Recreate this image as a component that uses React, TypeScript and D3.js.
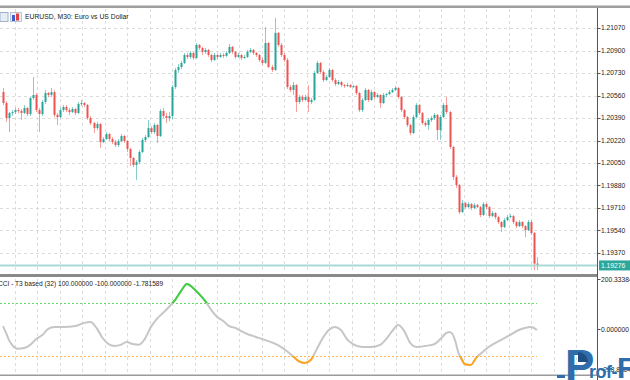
import React from "react";
import * as d3 from "d3";

const W = 630;
const H = 380;

// ---- price data (EURUSD M30) ----
const firstOpen = 1.20586;
const closes = [
  1.20503, 1.20390, 1.20428, 1.20435, 1.20450, 1.20443, 1.20428, 1.20466, 1.20420, 1.20541,
  1.20564, 1.20450, 1.20420, 1.20511, 1.20579, 1.20564, 1.20586, 1.20413, 1.20397, 1.20450,
  1.20473, 1.20450, 1.20435, 1.20458, 1.20428, 1.20496, 1.20503, 1.20488, 1.20390, 1.20352,
  1.20314, 1.20345, 1.20208, 1.20231, 1.20269, 1.20231, 1.20208, 1.20186, 1.20216, 1.20254,
  1.20216, 1.20156, 1.20088, 1.20035, 1.20057, 1.20133, 1.20224, 1.20246, 1.20314, 1.20284,
  1.20337, 1.20254, 1.20443, 1.20405, 1.20390, 1.20405, 1.20624, 1.20753, 1.20775, 1.20806,
  1.20866, 1.20851, 1.20881, 1.20844, 1.20942, 1.20919, 1.20889, 1.20904, 1.20866, 1.20828,
  1.20866, 1.20851, 1.20866, 1.20859, 1.20881, 1.20927, 1.20889, 1.20851, 1.20866, 1.20844,
  1.20851, 1.20889, 1.20904, 1.20881, 1.20866, 1.20828, 1.20806, 1.20957, 1.20775, 1.20753,
  1.21033, 1.20942, 1.20866, 1.20828, 1.20624, 1.20602, 1.20639, 1.20511, 1.20549, 1.20526,
  1.20549, 1.20511, 1.20526, 1.20730, 1.20806, 1.20738, 1.20677, 1.20700, 1.20753, 1.20677,
  1.20647, 1.20662, 1.20639, 1.20632, 1.20639, 1.20624, 1.20632, 1.20579, 1.20450, 1.20526,
  1.20602, 1.20526, 1.20586, 1.20549, 1.20564, 1.20503, 1.20564, 1.20571, 1.20586, 1.20602,
  1.20617, 1.20549, 1.20450, 1.20397, 1.20337, 1.20277, 1.20397, 1.20488, 1.20428, 1.20352,
  1.20337, 1.20375, 1.20390, 1.20413, 1.20299, 1.20397, 1.20488, 1.20435, 1.20171, 1.19944,
  1.19883, 1.19679, 1.19747, 1.19717, 1.19740, 1.19710, 1.19732, 1.19717, 1.19657, 1.19740,
  1.19717, 1.19649, 1.19672, 1.19641, 1.19604, 1.19566, 1.19619, 1.19641, 1.19649, 1.19604,
  1.19573, 1.19604, 1.19573, 1.19543, 1.19604, 1.19521, 1.19290, 1.19276,
];
const highs = [
  1.20617, 1.20518, 1.20435, 1.20450, 1.20466, 1.20466, 1.20458, 1.20488, 1.20473, 1.20549,
  1.20700, 1.20579, 1.20466, 1.20526, 1.20602, 1.20586, 1.20617, 1.20602, 1.20428, 1.20466,
  1.20488, 1.20488, 1.20466, 1.20473, 1.20466, 1.20511, 1.20526, 1.20511, 1.20496, 1.20405,
  1.20360, 1.20360, 1.20352, 1.20246, 1.20284, 1.20277, 1.20246, 1.20224, 1.20231, 1.20269,
  1.20261, 1.20224, 1.20163, 1.20095, 1.20072, 1.20148, 1.20239, 1.20261, 1.20375, 1.20329,
  1.20352, 1.20345, 1.20458, 1.20466, 1.20428, 1.20435, 1.20639, 1.20768, 1.20798, 1.20821,
  1.20881, 1.20881, 1.20896, 1.20889, 1.20957, 1.20949, 1.20927, 1.20919, 1.20912, 1.20874,
  1.20881, 1.20874, 1.20881, 1.20881, 1.20896, 1.20949, 1.20934, 1.20896, 1.20881, 1.20874,
  1.20866, 1.20904, 1.20919, 1.20912, 1.20889, 1.20874, 1.20844, 1.21078, 1.20964, 1.20791,
  1.21146, 1.21040, 1.20957, 1.20881, 1.20844, 1.20639, 1.20662, 1.20647, 1.20564, 1.20564,
  1.20564, 1.20639, 1.20541, 1.20745, 1.20821, 1.20813, 1.20753, 1.20715, 1.20768, 1.20760,
  1.20692, 1.20677, 1.20670, 1.20647, 1.20655, 1.20647, 1.20639, 1.20639, 1.20586, 1.20541,
  1.20617, 1.20609, 1.20602, 1.20594, 1.20579, 1.20571, 1.20579, 1.20579, 1.20602, 1.20617,
  1.20632, 1.20624, 1.20556, 1.20458, 1.20405, 1.20345, 1.20413, 1.20503, 1.20496, 1.20435,
  1.20367, 1.20390, 1.20405, 1.20428, 1.20420, 1.20413, 1.20503, 1.20549, 1.20443, 1.20178,
  1.19959, 1.19891, 1.19770, 1.19755, 1.19755, 1.19747, 1.19747, 1.19740, 1.19725, 1.19755,
  1.19747, 1.19725, 1.19687, 1.19679, 1.19649, 1.19611, 1.19634, 1.19657, 1.19664, 1.19657,
  1.19611, 1.19619, 1.19611, 1.19581, 1.19619, 1.19619, 1.19528, 1.19339,
];
const lows = [
  1.20488, 1.20360, 1.20284, 1.20405, 1.20420, 1.20428, 1.20375, 1.20420, 1.20405, 1.20405,
  1.20526, 1.20435, 1.20284, 1.20405, 1.20496, 1.20549, 1.20549, 1.20397, 1.20337, 1.20390,
  1.20435, 1.20435, 1.20413, 1.20428, 1.20413, 1.20420, 1.20481, 1.20473, 1.20375, 1.20337,
  1.20277, 1.20299, 1.20163, 1.20201, 1.20224, 1.20216, 1.20193, 1.20171, 1.20171, 1.20208,
  1.20201, 1.20133, 1.20027, 1.20019, 1.19921, 1.20042, 1.20125, 1.20208, 1.20239, 1.20269,
  1.20269, 1.20201, 1.20246, 1.20390, 1.20352, 1.20367, 1.20382, 1.20609, 1.20730, 1.20760,
  1.20798, 1.20836, 1.20836, 1.20828, 1.20836, 1.20904, 1.20866, 1.20874, 1.20851, 1.20813,
  1.20821, 1.20836, 1.20844, 1.20844, 1.20851, 1.20874, 1.20874, 1.20836, 1.20844, 1.20828,
  1.20836, 1.20844, 1.20881, 1.20866, 1.20851, 1.20813, 1.20791, 1.20798, 1.20768, 1.20738,
  1.20745, 1.20927, 1.20851, 1.20813, 1.20609, 1.20586, 1.20564, 1.20435, 1.20496, 1.20511,
  1.20518, 1.20435, 1.20496, 1.20518, 1.20723, 1.20723, 1.20662, 1.20670, 1.20692, 1.20662,
  1.20632, 1.20639, 1.20624, 1.20617, 1.20624, 1.20617, 1.20617, 1.20564, 1.20435, 1.20435,
  1.20518, 1.20511, 1.20518, 1.20534, 1.20541, 1.20466, 1.20496, 1.20549, 1.20564, 1.20579,
  1.20594, 1.20534, 1.20435, 1.20382, 1.20322, 1.20261, 1.20269, 1.20390, 1.20413, 1.20337,
  1.20322, 1.20299, 1.20360, 1.20375, 1.20224, 1.20224, 1.20390, 1.20420, 1.20156, 1.19921,
  1.19861, 1.19664, 1.19672, 1.19702, 1.19710, 1.19694, 1.19702, 1.19710, 1.19641, 1.19649,
  1.19702, 1.19634, 1.19641, 1.19626, 1.19589, 1.19528, 1.19558, 1.19611, 1.19634, 1.19589,
  1.19558, 1.19566, 1.19558, 1.19490, 1.19536, 1.19505, 1.19241, 1.19241,
];

const priceTicks = [1.2107, 1.209, 1.2073, 1.2056, 1.2039, 1.2022, 1.2005, 1.1988, 1.1971, 1.1954, 1.1937];
const lastPrice = 1.19276;

// ---- CCI (T3 based, 32) ----
const cciBars = [
  0, 1, 2, 3, 5, 7, 9, 11, 13, 15, 17, 20, 24, 27, 29, 31, 33, 35, 37, 39, 41, 43, 45, 47, 49,
  51, 53, 55, 57, 59, 61, 63, 65, 67, 69, 71, 73, 75, 77, 79, 81, 83, 87, 91, 94, 96, 98, 100,
  102, 104, 106, 108, 110, 112, 114, 116, 119, 122, 125, 127, 129, 131, 133, 135, 137, 140, 143,
  145, 147, 148, 149, 150, 151, 152, 153, 155, 157, 159, 161, 165, 168, 171, 173, 175, 177,
];
const cciValues = [
  13, -13, -40, -58, -73, -70, -58, -36, -21, 2, 9, 9, 13, 25, 28, 6, -32, -55, -62, -58, -47, -55, -58, -36, 9,
  40, 62, 85, 111, 145, 172, 157, 134, 108, 74, 47, 32, 13, 6, -6, -17, -25, -40, -58, -81, -100, -119, -126,
  -115, -74, -32, -2, 9, -2, -36, -55, -66, -66, -58, -36, -6, 17, -6, -51, -66, -62, -55,
  -36, -13, -9, -17, -47, -89, -111, -130, -134, -104, -85, -66, -40, -21, -2, 6, 9, -1.781589,
];
const cciLevels = [100, -100];
const cciTopLabel = "200.33384";
const cciZeroLabel = "0.000000";
const cciBottomLabel = "-228.8804";

const FONT = "'Liberation Sans', Arial, sans-serif";

export default function App() {
  const n = closes.length;
  const x = d3.scaleLinear().domain([0, n - 1]).range([3, 537]);
  const y = d3.scaleLinear().domain([1.1937, 1.2107]).range([253, 28]);
  const yc = d3.scaleLinear().domain([-100, 100]).range([356, 303]);
  const opens = closes.map((c, i) => (i === 0 ? firstOpen : closes[i - 1]));

  const axisX = 597.5;
  const gridXs = d3.range(26).map((k) => 15 + k * 22.44);

  const line = d3
    .line<number>()
    .x((_, i) => x(cciBars[i]))
    .y((d) => yc(d))
    .curve(d3.curveMonotoneX);
  const cciPath = line(cciValues) || "";

  const up = "#26a69a";
  const down = "#ef5350";

  return (
    <svg
      width={W}
      height={H}
      viewBox={`0 0 ${W} ${H}`}
      style={{ position: "absolute", left: 0, top: 0, background: "#fff" }}
    >
      <defs>
        <clipPath id="aboveClip">
          <rect x={0} y={270} width={axisX} height={yc(100) - 270} />
        </clipPath>
        <clipPath id="belowClip">
          <rect x={0} y={yc(-100)} width={axisX} height={380 - yc(-100)} />
        </clipPath>
      </defs>
      <rect x={0} y={0} width={W} height={H} fill="#fff" />
      {/* top frame */}
      <rect x={0} y={5.5} width={W} height={2.5} fill="#9e9e9e" />

      {/* grid main */}
      {gridXs.map((gx, i) => (
        <line key={"gv" + i} x1={Math.round(gx) + 0.5} x2={Math.round(gx) + 0.5} y1={9} y2={273}
          stroke="#dcdcdc" strokeDasharray="3,3" strokeWidth={1} />
      ))}
      {priceTicks.map((p, i) => (
        <line key={"gh" + i} x1={0} x2={axisX} y1={Math.round(y(p)) + 0.5} y2={Math.round(y(p)) + 0.5}
          stroke="#dcdcdc" strokeDasharray="3,3" strokeWidth={1} />
      ))}
      {/* grid indicator */}
      {gridXs.map((gx, i) => (
        <line key={"gvc" + i} x1={Math.round(gx) + 0.5} x2={Math.round(gx) + 0.5} y1={279} y2={374}
          stroke="#dcdcdc" strokeDasharray="3,3" strokeWidth={1} />
      ))}

      {/* candles */}
      {closes.map((c, i) => {
        const o = opens[i];
        const cx = Math.round(x(i));
        const col = c >= o ? up : down;
        const top = y(Math.max(o, c));
        const bot = y(Math.min(o, c));
        return (
          <g key={"c" + i}>
            <line x1={cx + 0.5} x2={cx + 0.5} y1={y(highs[i])} y2={y(lows[i])} stroke={col} strokeOpacity={0.55} strokeWidth={1} />
            <rect x={cx - 0.5} y={top} width={2} height={Math.max(1, bot - top)} fill={col} />
          </g>
        );
      })}

      {/* last price line */}
      <line x1={0} x2={axisX} y1={y(lastPrice)} y2={y(lastPrice)} stroke="#a9dad5" strokeWidth={2} />

      {/* panel separator & bottom */}
      <rect x={0} y={274} width={axisX} height={3} fill="#8a8a8a" />
      <rect x={0} y={374.5} width={axisX} height={1.5} fill="#9a9a9a" />

      {/* right axis */}
      <line x1={axisX} x2={axisX} y1={8} y2={H} stroke="#555" strokeWidth={1} />
      {priceTicks.map((p, i) => (
        <g key={"t" + i}>
          <line x1={axisX} x2={axisX + 3} y1={Math.round(y(p)) + 0.5} y2={Math.round(y(p)) + 0.5} stroke="#555" />
          <text x={601} y={y(p)} dy="0.35em" fontSize={6.7} fontFamily={FONT} fill="#222">
            {p.toFixed(5)}
          </text>
        </g>
      ))}
      <rect x={599} y={y(lastPrice) - 5} width={31} height={10} fill="#2ca79b" />
      <text x={601} y={y(lastPrice)} dy="0.35em" fontSize={6.7} fontFamily={FONT} fill="#fff">
        {lastPrice.toFixed(5)}
      </text>

      {/* indicator axis labels */}
      <line x1={axisX} x2={axisX + 3} y1={279.5} y2={279.5} stroke="#555" />
      <text x={601} y={279.5} dy="0.35em" fontSize={6.7} fontFamily={FONT} fill="#222">{cciTopLabel}</text>
      <line x1={axisX} x2={axisX + 3} y1={yc(0)} y2={yc(0)} stroke="#555" />
      <text x={601} y={yc(0)} dy="0.35em" fontSize={6.7} fontFamily={FONT} fill="#222">{cciZeroLabel}</text>
      <text x={601} y={370} dy="0.35em" fontSize={6.7} fontFamily={FONT} fill="#222">{cciBottomLabel}</text>

      {/* CCI levels */}
      {cciLevels.map((lv, i) => (
        <line key={"lv" + i} x1={0} x2={x(n - 1)} y1={Math.round(yc(lv)) + 0.5} y2={Math.round(yc(lv)) + 0.5}
          stroke={lv > 0 ? "#63d863" : "#ffb84d"} strokeDasharray="2,2" strokeWidth={1} />
      ))}
      {/* CCI line */}
      <path d={cciPath} fill="none" stroke="#c6c6c6" strokeWidth={2} />
      <path d={cciPath} fill="none" stroke="#3fcf3f" strokeWidth={2} clipPath="url(#aboveClip)" />
      <path d={cciPath} fill="none" stroke="#ffa51f" strokeWidth={2} clipPath="url(#belowClip)" />

      {/* titles */}
      <rect x={0} y={12.5} width={8} height={9} fill="#e6eef5" stroke="#9fb4c8" strokeWidth={1} />
      <rect x={10.5} y={12.5} width={11} height={9} fill="#eef2f8" stroke="#a8b8d0" strokeWidth={0.8} />
      <rect x={12} y={15} width={3} height={6} fill="#3f5fd0" />
      <rect x={16} y={13.5} width={3} height={7} fill="#e04040" />
      <text x={25} y={17} dy="0.35em" fontSize={6.8} fontFamily={FONT} fill="#222">
        {"EURUSD, M30:  Euro vs US Dollar"}
      </text>
      <text x={-2} y={284} dy="0.35em" fontSize={6.6} fontFamily={FONT} fill="#222">
        {"CCI - T3 based (32) 100.000000 -100.000000 -1.781589"}
      </text>

      {/* watermark logo */}
      <g fill="#2f6eab">
        <rect x={557} y={375} width={8} height={3} />
        <text x={565} y={381} fontSize={44} fontWeight="bold" fontFamily={FONT}>P</text>
        <path d="M578,352 A10,10 0 0 1 588,362 L578,362 Z" fill="#1d4f85" />
        <text x={589} y={378} fontSize={18} fontWeight="bold" fontFamily={FONT} letterSpacing={-0.5}>
          rof-<tspan fontSize={30}>F</tspan>
        </text>
      </g>
    </svg>
  );
}
